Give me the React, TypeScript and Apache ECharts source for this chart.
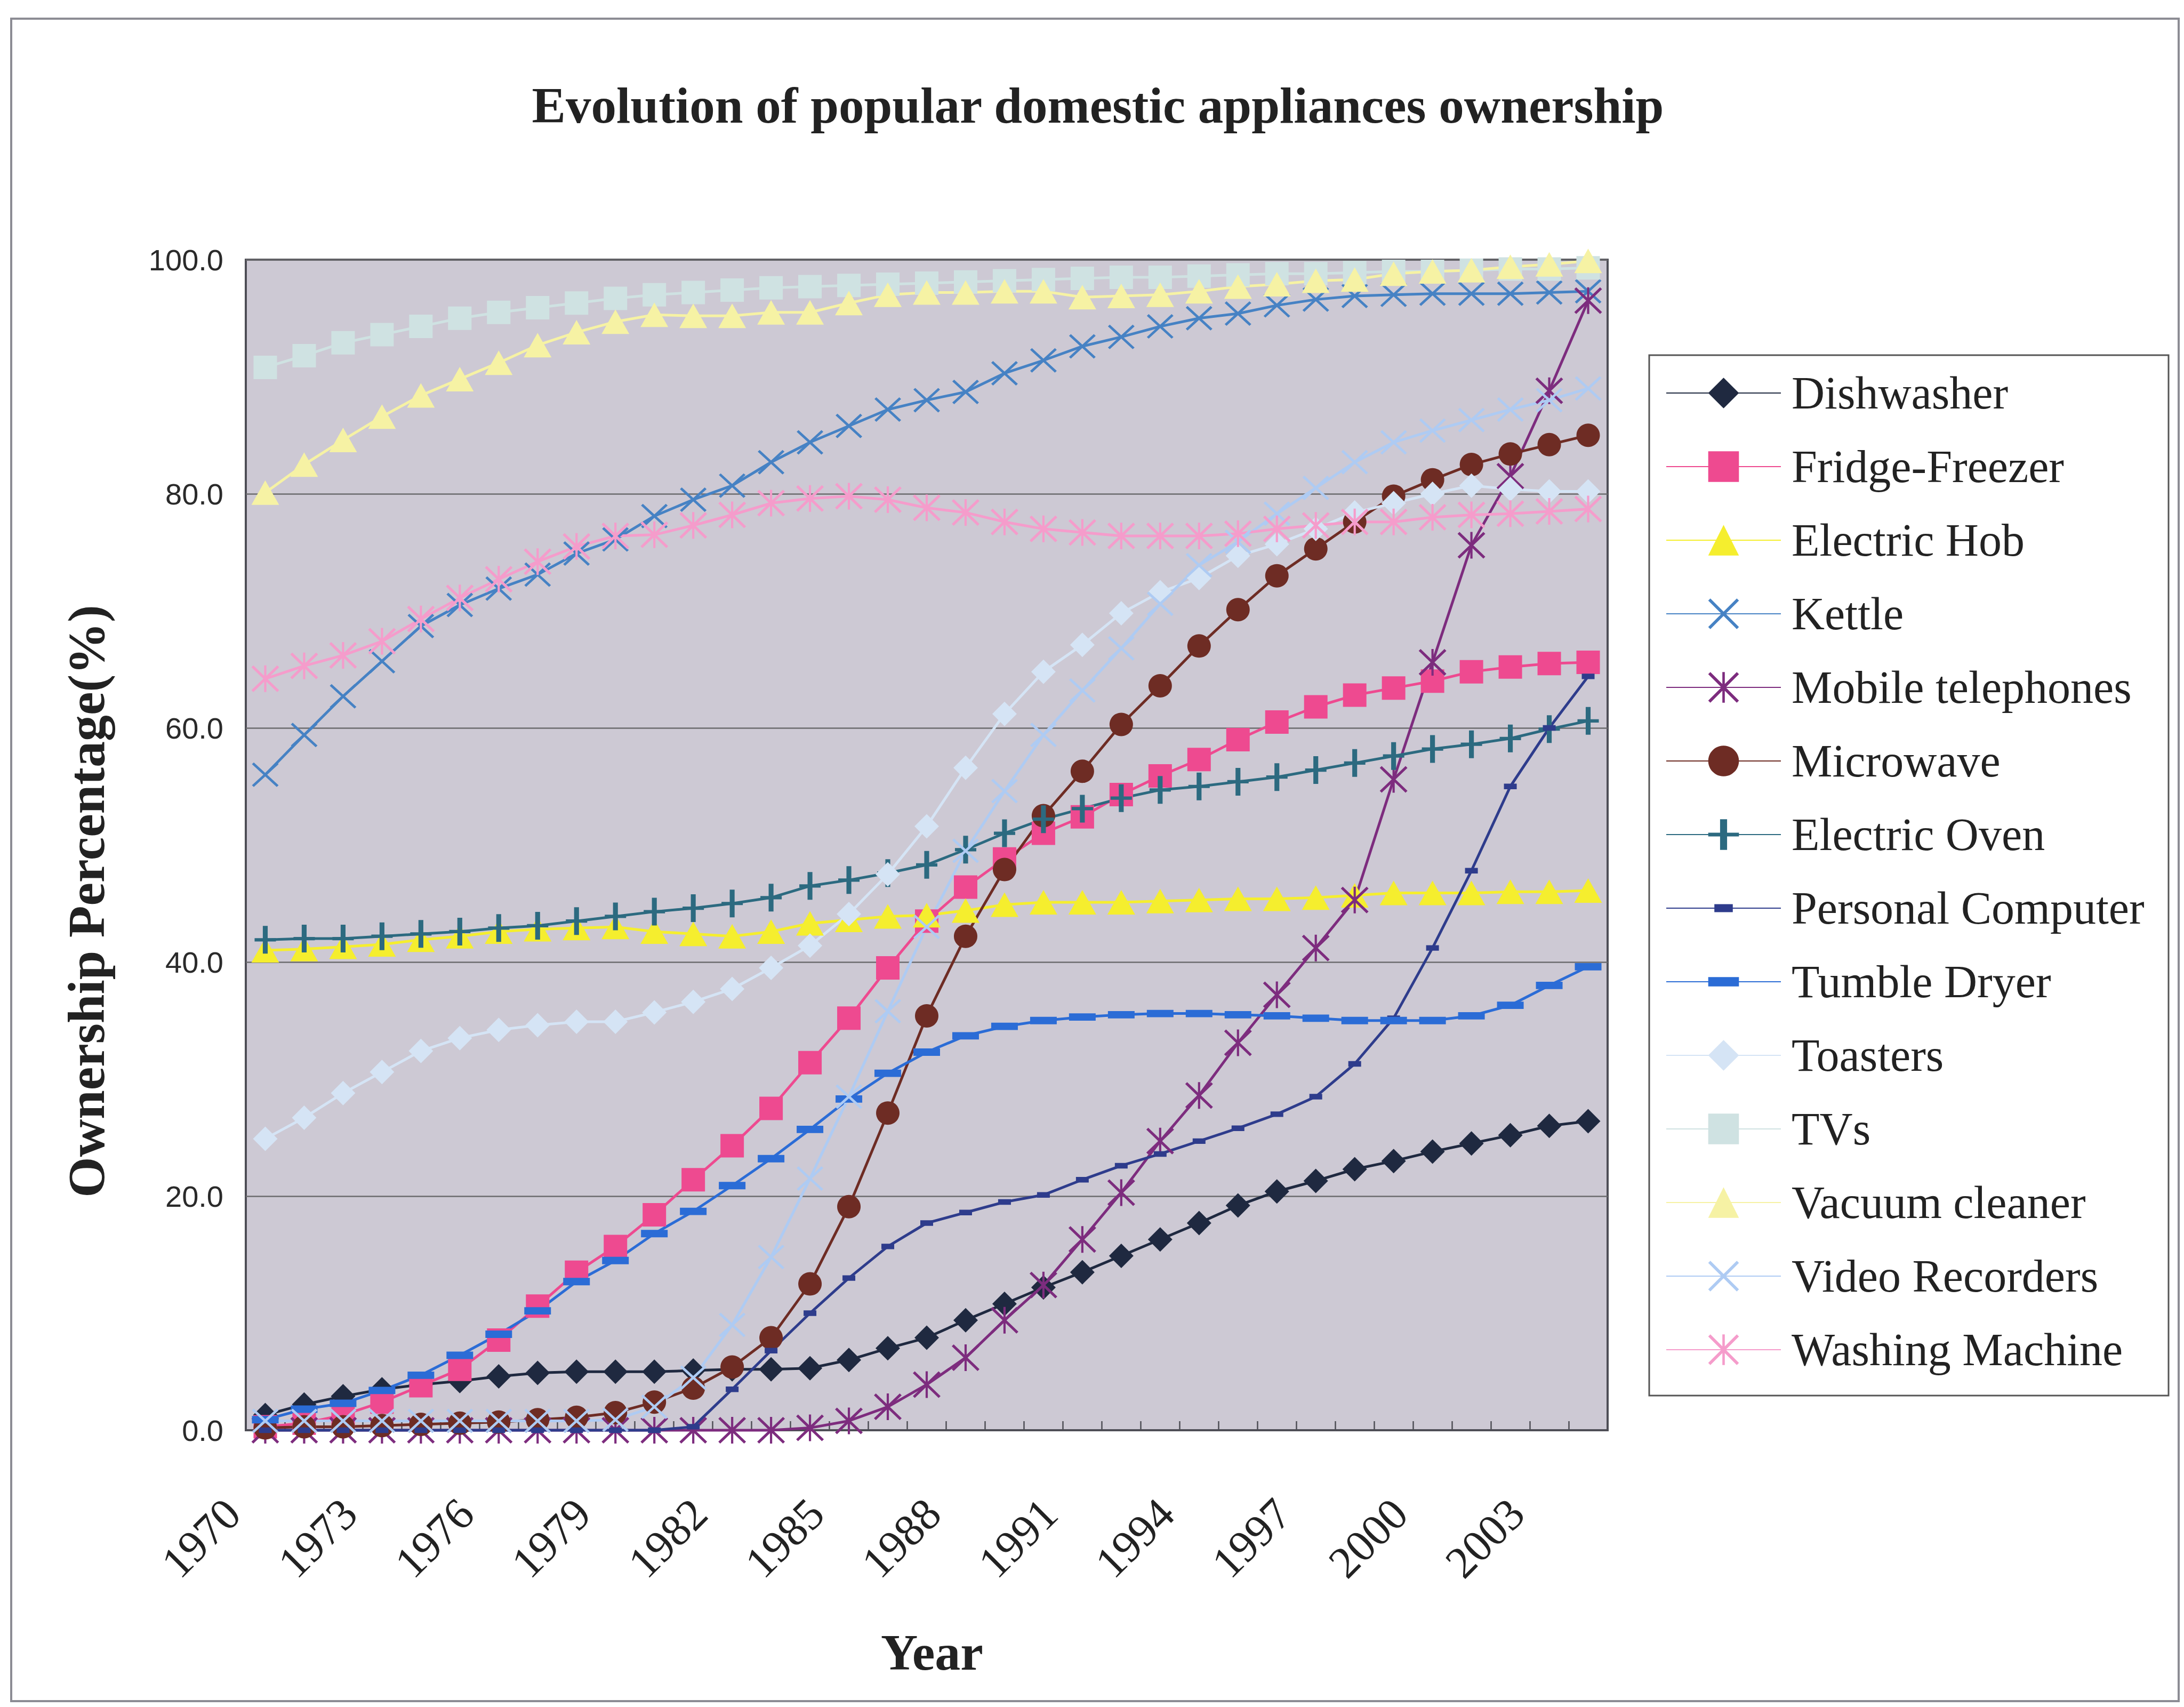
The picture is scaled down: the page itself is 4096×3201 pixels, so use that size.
import React, { useEffect, useRef } from "react";
import * as echarts from "echarts";

const years = [
  "1970", "1971", "1972", "1973", "1974", "1975", "1976", "1977", "1978", "1979",
  "1980", "1981", "1982", "1983", "1984", "1985", "1986", "1987", "1988", "1989",
  "1990", "1991", "1992", "1993", "1994", "1995", "1996", "1997", "1998", "1999",
  "2000", "2001", "2002", "2003", "2004",
];

const dishwasher = [1.3, 2.2, 2.9, 3.5, 3.9, 4.2, 4.6, 4.9, 5.0, 5.0, 5.0, 5.1, 5.2, 5.2, 5.3, 6.0, 7.0, 7.9, 9.4, 10.8, 12.2, 13.5, 14.9, 16.3, 17.7, 19.2, 20.4, 21.3, 22.3, 23.0, 23.8, 24.5, 25.2, 26.0, 26.4];
const fridgeFreezer = [0.3, 0.6, 1.3, 2.4, 3.8, 5.2, 7.7, 10.6, 13.5, 15.7, 18.4, 21.4, 24.3, 27.5, 31.4, 35.2, 39.5, 43.5, 46.4, 48.8, 51.0, 52.4, 54.3, 55.9, 57.3, 59.0, 60.5, 61.8, 62.8, 63.4, 64.0, 64.8, 65.2, 65.5, 65.6];
const electricHob = [41.0, 41.1, 41.3, 41.5, 41.9, 42.2, 42.6, 42.8, 42.9, 43.0, 42.6, 42.4, 42.2, 42.6, 43.3, 43.6, 43.9, 44.0, 44.4, 44.9, 45.1, 45.1, 45.1, 45.2, 45.3, 45.4, 45.4, 45.5, 45.7, 45.9, 45.9, 45.9, 46.0, 46.0, 46.1];
const kettle = [56.0, 59.4, 62.7, 65.7, 68.7, 70.5, 71.9, 73.1, 74.9, 76.1, 78.1, 79.5, 80.7, 82.7, 84.4, 85.8, 87.2, 88.0, 88.7, 90.3, 91.4, 92.6, 93.4, 94.3, 95.0, 95.4, 96.1, 96.6, 96.9, 97.0, 97.1, 97.1, 97.1, 97.2, 97.3];
const mobilePhones = [0, 0, 0, 0, 0, 0, 0, 0, 0, 0, 0, 0, 0, 0, 0.2, 0.8, 2.0, 3.9, 6.2, 9.4, 12.4, 16.3, 20.3, 24.7, 28.6, 33.1, 37.2, 41.2, 45.3, 55.6, 65.6, 75.6, 81.5, 88.8, 96.5];
const microwave = [0.2, 0.3, 0.3, 0.4, 0.5, 0.6, 0.7, 0.9, 1.1, 1.5, 2.4, 3.6, 5.4, 7.9, 12.5, 19.1, 27.1, 35.4, 42.2, 47.9, 52.5, 56.3, 60.3, 63.6, 67.0, 70.1, 73.0, 75.3, 77.6, 79.8, 81.2, 82.5, 83.4, 84.2, 85.0];
const electricOven = [41.9, 42.0, 42.0, 42.2, 42.4, 42.6, 42.9, 43.1, 43.5, 43.9, 44.3, 44.6, 45.0, 45.5, 46.5, 47.0, 47.6, 48.3, 49.6, 51.0, 52.2, 53.1, 54.0, 54.7, 55.0, 55.4, 55.8, 56.4, 57.0, 57.6, 58.2, 58.6, 59.1, 59.9, 60.6];
const personalComputer = [0, 0, 0, 0, 0, 0, 0, 0, 0, 0, 0, 0.3, 3.5, 6.8, 10.0, 13.0, 15.7, 17.7, 18.6, 19.5, 20.1, 21.4, 22.6, 23.6, 24.7, 25.8, 27.0, 28.5, 31.3, 35.2, 41.2, 47.8, 55.0, 60.0, 64.4];
const tumbleDryer = [0.9, 1.8, 2.3, 3.4, 4.7, 6.4, 8.2, 10.2, 12.7, 14.5, 16.8, 18.7, 20.9, 23.2, 25.7, 28.3, 30.5, 32.3, 33.7, 34.5, 35.0, 35.3, 35.5, 35.6, 35.6, 35.5, 35.4, 35.2, 35.0, 35.0, 35.0, 35.4, 36.3, 38.0, 39.6];
const toasters = [24.9, 26.7, 28.8, 30.6, 32.4, 33.5, 34.2, 34.6, 34.9, 34.9, 35.7, 36.6, 37.7, 39.5, 41.4, 44.1, 47.5, 51.6, 56.6, 61.2, 64.8, 67.1, 69.8, 71.6, 72.8, 74.7, 75.7, 77.0, 78.4, 79.2, 80.0, 80.7, 80.4, 80.2, 80.2];
const tvs = [90.8, 91.8, 92.9, 93.6, 94.3, 95.0, 95.5, 95.9, 96.3, 96.7, 97.0, 97.2, 97.4, 97.6, 97.7, 97.8, 97.9, 98.0, 98.1, 98.2, 98.3, 98.4, 98.5, 98.5, 98.6, 98.7, 98.8, 98.8, 98.9, 99.0, 99.0, 99.1, 99.2, 99.2, 99.3];
const vacuumCleaner = [80.1, 82.5, 84.6, 86.6, 88.4, 89.8, 91.2, 92.7, 93.8, 94.7, 95.3, 95.2, 95.2, 95.5, 95.5, 96.3, 97.0, 97.2, 97.2, 97.3, 97.3, 96.8, 96.9, 97.0, 97.3, 97.7, 97.9, 98.2, 98.3, 98.8, 99.0, 99.1, 99.4, 99.6, 99.9];
const videoRecorders = [0.8, 0.8, 0.8, 0.8, 0.8, 0.8, 0.8, 0.8, 0.8, 0.9, 2.0, 4.5, 9.0, 14.8, 21.5, 28.5, 35.8, 43.0, 49.5, 54.6, 59.4, 63.2, 66.8, 70.6, 73.9, 75.9, 78.3, 80.5, 82.7, 84.4, 85.4, 86.3, 87.2, 88.0, 89.0];
const washingMachine = [64.2, 65.3, 66.2, 67.4, 69.3, 71.1, 72.7, 74.2, 75.5, 76.4, 76.5, 77.3, 78.2, 79.2, 79.6, 79.8, 79.5, 78.8, 78.4, 77.6, 77.0, 76.7, 76.4, 76.4, 76.4, 76.6, 77.0, 77.3, 77.6, 77.6, 78.0, 78.2, 78.3, 78.5, 78.7];

const X_PATH = "path://M0,7L7,0L100,93L93,100ZM93,0L100,7L7,100L0,93Z";
const STAR_PATH = "path://M0,7L7,0L100,93L93,100ZM93,0L100,7L7,100L0,93ZM46,0L54,0L54,100L46,100Z";
const PLUS_PATH = "path://M42,0L58,0L58,100L42,100ZM15,44L85,44L85,56L15,56Z";
const DASH_WIDE = "path://M0,0L0.1,0L0.1,0.1ZM100,100L99.9,100L99.9,99.9ZM0,35L100,35L100,65L0,65Z";
const DASH_SMALL = "path://M0,0L0.1,0L0.1,0.1ZM100,100L99.9,100L99.9,99.9ZM20,37L80,37L80,63L20,63Z";

type Spec = { name: string; data: number[]; color: string; symbol: string; size: number | number[] };

const specs: Spec[] = [
  { name: "Dishwasher", data: dishwasher, color: "#1F2940", symbol: "diamond", size: 46 },
  { name: "Fridge-Freezer", data: fridgeFreezer, color: "#EE4A90", symbol: "rect", size: 44 },
  { name: "Electric Hob", data: electricHob, color: "#F5EE2E", symbol: "triangle", size: [52, 46] },
  { name: "Kettle", data: kettle, color: "#4682C4", symbol: X_PATH, size: [50, 46] },
  { name: "Mobile telephones", data: mobilePhones, color: "#7D2C7E", symbol: STAR_PATH, size: [52, 50] },
  { name: "Microwave", data: microwave, color: "#6E2C24", symbol: "circle", size: 44 },
  { name: "Electric Oven", data: electricOven, color: "#2C6A80", symbol: PLUS_PATH, size: [40, 52] },
  { name: "Personal Computer", data: personalComputer, color: "#2E3C8C", symbol: DASH_SMALL, size: [40, 40] },
  { name: "Tumble Dryer", data: tumbleDryer, color: "#2B6CD6", symbol: DASH_WIDE, size: [50, 46] },
  { name: "Toasters", data: toasters, color: "#D5E4F5", symbol: "diamond", size: 46 },
  { name: "TVs", data: tvs, color: "#CFE2E2", symbol: "rect", size: 44 },
  { name: "Vacuum cleaner", data: vacuumCleaner, color: "#F6F2A4", symbol: "triangle", size: [52, 46] },
  { name: "Video Recorders", data: videoRecorders, color: "#AECBF3", symbol: X_PATH, size: [50, 46] },
  { name: "Washing Machine", data: washingMachine, color: "#F59CCB", symbol: STAR_PATH, size: [52, 50] },
];

export default function App() {
  const ref = useRef<HTMLDivElement>(null);

  useEffect(() => {
    if (!ref.current) return;
    const chart = echarts.init(ref.current, null, { renderer: "svg" });

    const series = specs.map((s) => ({
      name: s.name,
      type: "line",
      data: s.data,
      symbol: s.symbol,
      symbolSize: s.size,
      showSymbol: true,
      showAllSymbol: true,
      clip: false,
      lineStyle: { color: s.color, width: 5 },
      itemStyle: { color: s.color, borderWidth: 0 },
      emphasis: { disabled: true },
    }));

    const option: any = {
      animation: false,
      backgroundColor: "#ffffff",
      grid: {
        left: 461,
        top: 487,
        width: 2554,
        height: 2195,
        show: true,
        backgroundColor: "#CDC9D4",
        borderColor: "#4E4E56",
        borderWidth: 4,
        containLabel: false,
      },
      xAxis: {
        type: "category",
        data: years,
        boundaryGap: true,
        axisLine: { show: true, lineStyle: { color: "#4E4E56", width: 4 } },
        axisTick: { show: true, inside: true, length: 17, interval: 0, lineStyle: { color: "#4E4E56", width: 2.5 } },
        axisLabel: {
          interval: 2,
          rotate: 45,
          fontFamily: "Liberation Serif",
          fontSize: 84,
          color: "#222222",
          margin: 81,
          padding: [0, 87, 0, 0],
        },
        splitLine: { show: false },
      },
      yAxis: {
        type: "value",
        min: 0,
        max: 100,
        interval: 20,
        axisLine: { show: false },
        axisTick: { show: false },
        splitLine: { show: true, lineStyle: { color: "#6B6B6E", width: 2.5 } },
        axisLabel: {
          formatter: (v: number) => v.toFixed(1),
          fontFamily: "Liberation Sans",
          fontSize: 56,
          color: "#2A2A2A",
          margin: 42,
        },
      },
      legend: {
        show: true,
        orient: "vertical",
        left: 3124,
        top: 694,
        padding: 0,
        itemWidth: 215,
        itemHeight: 72,
        itemGap: 52,
        selectedMode: false,
        data: specs.map((s) => s.name),
        textStyle: {
          fontFamily: "Liberation Serif",
          fontSize: 86,
          color: "#222222",
          lineHeight: 72,
          padding: [0, 0, 0, 15],
        },
      },
      graphic: [
        {
          type: "rect",
          z: -10,
          shape: { x: 21, y: 35, width: 4065, height: 3155 },
          style: { fill: "none", stroke: "#8C8C94", lineWidth: 4 },
        },
        {
          type: "rect",
          z: -5,
          shape: { x: 3093, y: 666, width: 974, height: 1951 },
          style: { fill: "#ffffff", stroke: "#555555", lineWidth: 3 },
        },
        {
          type: "text",
          x: 2059,
          y: 198,
          style: {
            text: "Evolution of popular domestic appliances ownership",
            font: 'bold 95px "Liberation Serif"',
            fill: "#222222",
            align: "center",
            verticalAlign: "middle",
            textAlign: "center",
            textVerticalAlign: "middle",
          },
        },
        {
          type: "text",
          x: 162,
          y: 1690,
          rotation: Math.PI / 2,
          style: {
            text: "Ownership Percentage(%)",
            font: 'bold 98px "Liberation Serif"',
            fill: "#222222",
            align: "center",
            verticalAlign: "middle",
            textAlign: "center",
            textVerticalAlign: "middle",
          },
        },
        {
          type: "text",
          x: 1748,
          y: 3098,
          style: {
            text: "Year",
            font: 'bold 96px "Liberation Serif"',
            fill: "#222222",
            align: "center",
            verticalAlign: "middle",
            textAlign: "center",
            textVerticalAlign: "middle",
          },
        },
      ],
      series,
    };

    chart.setOption(option);
    return () => chart.dispose();
  }, []);

  return (
    <div
      ref={ref}
      style={{ position: "absolute", left: 0, top: 0, width: 4096, height: 3201, background: "#ffffff" }}
    />
  );
}
